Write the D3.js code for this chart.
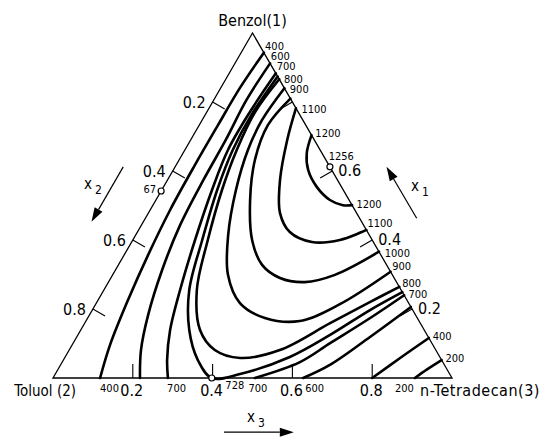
<!DOCTYPE html>
<html>
<head>
<meta charset="utf-8">
<script src="https://cdn.jsdelivr.net/npm/d3@7"></script>
<style>
  body { margin: 0; background: #fff; }
  text { font-family: "DejaVu Sans Condensed", "DejaVu Sans", sans-serif; fill: #000; }
</style>
</head>
<body>
<svg id="chart" width="559" height="442"></svg>
<script>
// contour points, as [x1 (Benzol), x3 (n-Tetradecan)]; x2 = 1 - x1 - x3
const line200R = [[0, .907], [.025, .925], [.052, .948]]
const line400L = [[.943, .057], [.841, .048], [.733, .047], [.617, .047], [.487, .05], [.357, .06], [.226, .075], [.096, .095], [0, .118]]
const line400R = [[0, .80], [.058, .841], [.116, .884]]
const line600L = [[.912, .088], [.806, .082], [.69, .088], [.574, .09], [.443, .097], [.313, .117], [.183, .147], [.081, .18], [0, .218]]
const line600R = [[0, .627], [.038, .675], [.119, .735], [.206, .794]]
const line700L = [[.883, .117], [.771, .108], [.661, .108], [.545, .126], [.4, .156], [.255, .191], [.139, .224], [.052, .26], [0, .288]]
const line700R = [[0, .506], [.046, .596], [.101, .644], [.174, .708], [.24, .76]]
const line728 = [[.874, .126], [.762, .116], [.661, .12], [.545, .139], [.4, .174], [.255, .214], [.139, .272], [.052, .337], [0, .398],
	[.0116, .463], [.061, .563], [.125, .632], [.197, .696], [.249, .751]]
const line800 = [[.866, .134], [.771, .121], [.661, .13], [.545, .151], [.4, .188], [.255, .233], [.139, .299], [.081, .365], [.058, .44],
	[.081, .528], [.159, .615], [.22, .684], [.264, .736]]
const line900 = [[.84, .16], [.748, .15], [.661, .158], [.545, .186], [.414, .232], [.299, .289], [.217, .36], [.174, .444], [.165, .536], [.214, .612], [.308, .692]]
const line1000 = [[.81, .19], [.733, .172], [.632, .19], [.516, .236], [.4, .299], [.328, .36], [.29, .424], [.278, .492], [.299, .557], [.366, .634]]
const line1100 = [[.782, .218], [.69, .242], [.574, .282], [.478, .33], [.423, .382], [.394, .452], [.4, .519], [.429, .571]]
const line1200 = [[.704, .296], [.652, .31], [.603, .338], [.554, .384], [.516, .436], [.501, .476], [.501, .499]]

// labels of contour values where the lines meet the edges
const rightEdgeLabels = [["400", .962], ["600", .933], ["700", .904], ["800", .867], ["900", .838], ["1100", .78], ["1200", .71], ["1256", .643],
	["1200", .504], ["1100", .449], ["1000", .362], ["900", .325], ["800", .275], ["700", .243], ["400", .122], ["200", .058]]
const bottomEdgeLabels = [["400", .118], ["700", .286], ["728", .432], ["700", .49], ["600", .632], ["200", .857]]

// extreme points on the binary edges: [x1, x3, label]
const extremePoints = [[.542, 0, "67"], [.612, .388, "1256"], [0, .398, "728"]]

const ticks = [0.2, 0.4, 0.6, 0.8]

const svg = d3.select("#chart")

const xScale = d3.scaleLinear().domain([0, 1]).range([53, 452])
const yScale = d3.scaleLinear().domain([0, 1]).range([378, 33])
const proj = (x1, x3) => [xScale(x3 + x1 / 2), yScale(x1)]

const lineGen = d3.line()
	.x(d => proj(d[0], d[1])[0])
	.y(d => proj(d[0], d[1])[1])
	.curve(d3.curveCatmullRom.alpha(0.5))

// triangle
svg.append("path")
	.attr("d", d3.line()([proj(1, 0), proj(0, 0), proj(0, 1)]) + "Z")
	.attr("fill", "none")
	.attr("stroke", "#000")
	.attr("stroke-width", 1.3)

// ticks
const tickLen = 14
ticks.forEach(t => {
	const b = proj(0, t)
	svg.append("line").attr("x1", b[0]).attr("y1", b[1]).attr("x2", b[0]).attr("y2", b[1] - tickLen)
		.attr("stroke", "#000").attr("stroke-width", 1.1)
	svg.append("text").attr("x", b[0] - 1).attr("y", b[1] + 18).attr("text-anchor", "middle")
		.attr("font-size", "16px").text(t.toFixed(1))

	const l = proj(1 - t, 0)
	svg.append("line").attr("x1", l[0]).attr("y1", l[1]).attr("x2", l[0] + tickLen * 0.866).attr("y2", l[1] + tickLen * 0.5)
		.attr("stroke", "#000").attr("stroke-width", 1.1)
	svg.append("text").attr("x", l[0] - 7).attr("y", l[1]).attr("dy", "0.35em").attr("text-anchor", "end")
		.attr("font-size", "16px").text(t.toFixed(1))

	const r = proj(t, 1 - t)
	svg.append("line").attr("x1", r[0]).attr("y1", r[1]).attr("x2", r[0] - tickLen * 0.866).attr("y2", r[1] + tickLen * 0.5)
		.attr("stroke", "#000").attr("stroke-width", 1.1)
	if (t !== 0.8) {
		svg.append("text").attr("x", r[0] + 6).attr("y", r[1] - 1).attr("dy", "0.35em")
			.attr("font-size", "16px").text(t.toFixed(1))
	}
})

// contour lines
const lines = [line200R, line400L, line400R, line600L, line600R, line700L, line700R, line728, line800, line900, line1000, line1100, line1200]
svg.selectAll("path.contour")
	.data(lines)
	.enter()
	.append("path")
	.attr("class", "contour")
	.attr("d", lineGen)
	.attr("fill", "none")
	.attr("stroke", "#000")
	.attr("stroke-width", 2.6)
	.attr("stroke-linecap", "round")

// contour value labels
rightEdgeLabels.forEach(d => {
	const p = proj(d[1], 1 - d[1])
	svg.append("text").attr("x", p[0] + 5).attr("y", p[1] + 4)
		.attr("font-size", "11px").text(d[0])
})
bottomEdgeLabels.forEach(d => {
	const p = proj(0, d[1])
	svg.append("text").attr("x", p[0]).attr("y", p[1] + (d[0] === "728" ? 11 : 14))
		.attr("font-size", "11px").text(d[0])
})

// extreme points
extremePoints.forEach(d => {
	const p = proj(d[0], d[1])
	svg.append("circle").attr("cx", p[0]).attr("cy", p[1]).attr("r", 3)
		.attr("fill", "#fff").attr("stroke", "#000").attr("stroke-width", 1.2)
})
{
	const p = proj(extremePoints[0][0], extremePoints[0][1])
	svg.append("text").attr("x", p[0] - 5).attr("y", p[1] + 2).attr("text-anchor", "end")
		.attr("font-size", "11px").text(extremePoints[0][2])
}

// corner labels
const apex = proj(1, 0), cornerL = proj(0, 0), cornerR = proj(0, 1)
svg.append("text").attr("x", apex[0]).attr("y", apex[1] - 7).attr("text-anchor", "middle")
	.attr("font-family", "DejaVu Sans").attr("font-size", "16px").text("Benzol(1)")
svg.append("text").attr("x", cornerL[0] + 23).attr("y", cornerL[1] + 18).attr("text-anchor", "end")
	.attr("font-family", "DejaVu Sans").attr("font-size", "15px").text("Toluol (2)")
svg.append("text").attr("x", cornerR[0] - 32).attr("y", cornerR[1] + 18)
	.attr("font-family", "DejaVu Sans").attr("font-size", "16px").attr("letter-spacing", "0.5px").text("n-Tetradecan(3)")

// composition arrows
const arrow = (a, b, label, lx, ly) => {
	const p0 = proj(a[0], a[1]), p1 = proj(b[0], b[1])
	const dx = p1[0] - p0[0], dy = p1[1] - p0[1], len = Math.hypot(dx, dy)
	const ux = dx / len, uy = dy / len
	const hl = 14, hw = 4.5
	svg.append("line").attr("x1", p0[0]).attr("y1", p0[1]).attr("x2", p1[0] - ux * hl).attr("y2", p1[1] - uy * hl)
		.attr("stroke", "#000").attr("stroke-width", 1.2)
	svg.append("path")
		.attr("d", d3.line()([p1, [p1[0] - ux * hl - uy * hw, p1[1] - uy * hl + ux * hw], [p1[0] - ux * hl + uy * hw, p1[1] - uy * hl - ux * hw]]) + "Z")
		.attr("fill", "#000")
	const t = svg.append("text").attr("x", lx).attr("y", ly).attr("font-size", "15px")
	t.append("tspan").text("x")
	t.append("tspan").attr("dx", 3).attr("dy", 5).attr("font-size", "12px").text(label)
}
arrow([.463, .68], [.612, .53], "1", 411, 191)
arrow([.612, -.13], [.453, -.13], "2", 84, 189)
arrow([-.157, .507], [-.157, .682], "3", 247, 422)
</script>
</body>
</html>
